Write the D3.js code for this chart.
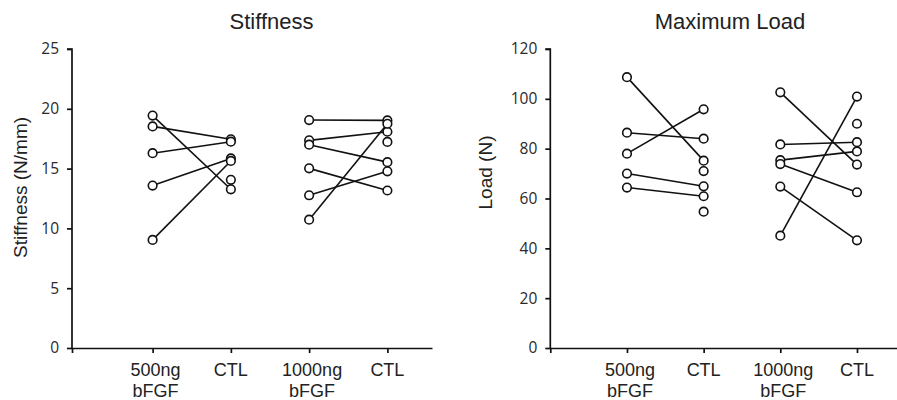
<!DOCTYPE html>
<html>
<head>
<meta charset="utf-8">
<script src="https://cdn.jsdelivr.net/npm/d3@7"></script>
<style>
  html, body { margin: 0; padding: 0; background: #fff; }
  svg { display: block; }
</style>
</head>
<body>
<svg id="chart" width="897" height="400"></svg>
<script>
// ---------- data ----------
const categories = ["500ng\nbFGF", "CTL", "1000ng\nbFGF", "CTL"];

// Stiffness (N/mm)
const stiff500      = [19.43, 18.53, 16.29, 13.58, 9.04];
const stiffCtl500   = [13.27, 17.45, 17.25, 15.85, 15.64];   // paired with stiff500
const stiffCtl500X  = [14.06];                               // unpaired
const stiff1000     = [19.06, 17.36, 17.0, 15.02, 12.77, 10.73];
const stiffCtl1000  = [19.03, 18.08, 15.54, 13.17, 14.77, 18.75]; // paired with stiff1000
const stiffCtl1000X = [17.23];
const stiffTicks    = [0, 5, 10, 15, 20, 25];

// Maximum Load (N)
const load500       = [108.7, 86.4, 78.0, 70.0, 64.4];
const loadCtl500    = [75.2, 84.0, 95.8, 64.9, 60.9];
const loadCtl500X   = [71.0, 54.7];
const load1000      = [102.6, 81.7, 75.4, 73.8, 64.8, 45.1];
const loadCtl1000   = [73.6, 82.6, 78.9, 62.5, 43.2, 100.9];
const loadCtl1000X  = [90.0];
const loadTicks     = [0, 20, 40, 60, 80, 100, 120];

// ---------- drawing ----------
const svg = d3.select("#chart");

function panel(cfg) {
  const g = svg.append("g");
  const x = d3.scaleLinear().domain(cfg.xDomain).range(cfg.xRange);
  const y = d3.scaleLinear().domain(cfg.yDomain).range([348, 49]);

  // y axis
  const yAxis = d3.axisLeft(y).tickValues(cfg.yTicks).tickSize(5).tickPadding(8);
  const ya = g.append("g").attr("transform", `translate(${cfg.xRange[0]},0)`).call(yAxis);
  ya.select(".domain").attr("d", `M-5,${y(cfg.yDomain[1])}H0V${y(0)}`);
  ya.selectAll("path, line").attr("stroke", "#111").attr("stroke-width", 1.7);
  ya.selectAll("text").attr("font-family", "'Open Sans', sans-serif")
    .attr("font-size", "15.5px").attr("fill", "#2a2a2a");

  // x axis
  const xa = g.append("g").attr("transform", `translate(0,${y(0)})`)
    .call(d3.axisBottom(x).tickValues([cfg.xDomain[0], 1, 2, 3, 4]).tickSize(5).tickSizeOuter(0).tickFormat(""));
  xa.selectAll("path, line").attr("stroke", "#111").attr("stroke-width", 1.7);

  // x labels
  categories.forEach((c, i) => {
    const t = g.append("text")
      .attr("x", x(i + 1)).attr("y", y(0) + 28)
      .attr("text-anchor", "middle")
      .attr("font-family", "'Liberation Sans', Arial, sans-serif")
      .attr("font-size", "18px").attr("fill", "#222");
    c.split("\n").forEach((line, k) => {
      t.append("tspan").attr("x", x(i + 1) + (c.includes("\n") ? 3 : 0))
        .attr("dy", k === 0 ? 0 : 21).text(line);
    });
  });

  // title
  g.append("text").attr("x", cfg.titleX).attr("y", 29)
    .attr("text-anchor", "middle")
    .attr("font-family", "'Liberation Sans', Arial, sans-serif")
    .attr("font-size", "22px").attr("fill", "#222").text(cfg.title);

  // y title
  g.append("text")
    .attr("transform", `translate(${cfg.yTitleX},${cfg.yTitleY}) rotate(-90)`)
    .attr("text-anchor", "middle")
    .attr("font-family", "'Liberation Sans', Arial, sans-serif")
    .attr("font-size", "19px").attr("fill", "#222").text(cfg.yTitle);

  // pairs
  const groups = [
    { a: cfg.a1, b: cfg.b1, extra: cfg.b1x, xa: 1, xb: 2 },
    { a: cfg.a2, b: cfg.b2, extra: cfg.b2x, xa: 3, xb: 4 }
  ];
  const lines = g.append("g"), pts = g.append("g");
  groups.forEach(gr => {
    gr.a.forEach((v, i) => {
      lines.append("line")
        .attr("x1", x(gr.xa)).attr("y1", y(v))
        .attr("x2", x(gr.xb)).attr("y2", y(gr.b[i]))
        .attr("stroke", "#111").attr("stroke-width", 1.6);
    });
    const all = gr.a.map(v => [gr.xa, v])
      .concat(gr.b.map(v => [gr.xb, v]))
      .concat(gr.extra.map(v => [gr.xb, v]));
    all.forEach(([cx, v]) => {
      pts.append("circle").attr("cx", x(cx)).attr("cy", y(v)).attr("r", 4.3)
        .attr("fill", "#fff").attr("stroke", "#111").attr("stroke-width", 1.6);
    });
  });
}

panel({
  xDomain: [-0.03, 4.57], xRange: [72, 432],
  yDomain: [0, 25], yTicks: stiffTicks,
  title: "Stiffness", titleX: 271.5,
  yTitle: "Stiffness (N/mm)", yTitleX: 27, yTitleY: 187.5,
  a1: stiff500, b1: stiffCtl500, b1x: stiffCtl500X,
  a2: stiff1000, b2: stiffCtl1000, b2x: stiffCtl1000X
});

panel({
  xDomain: [0, 4.6], xRange: [550.3, 550.3 + 4.6 * 76.67],
  yDomain: [0, 120], yTicks: loadTicks,
  title: "Maximum Load", titleX: 730,
  yTitle: "Load (N)", yTitleX: 492, yTitleY: 172.5,
  a1: load500, b1: loadCtl500, b1x: loadCtl500X,
  a2: load1000, b2: loadCtl1000, b2x: loadCtl1000X
});
</script>
</body>
</html>
